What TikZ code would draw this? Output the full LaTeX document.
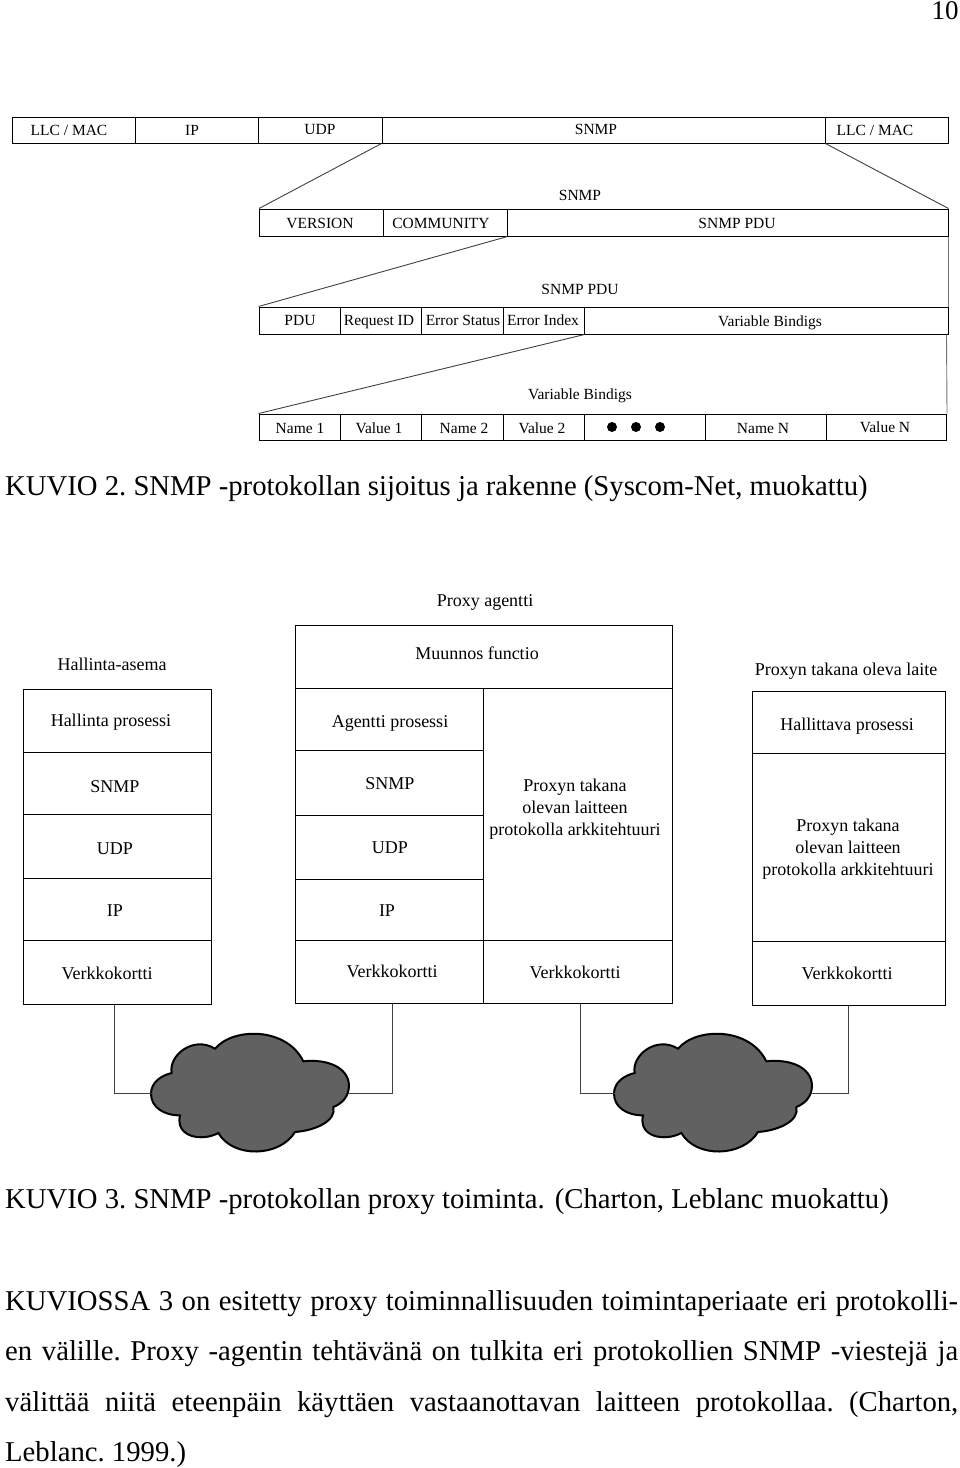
\documentclass[tikz,border=0pt]{standalone}
\usepackage{fontspec}
\setmainfont{Liberation Serif}
\tikzset{
  cell/.style={draw=black, line width=1pt, inner sep=0pt},
  lab/.style={inner sep=0pt, text height=10.2pt, text depth=0pt, font=\fontsize{15.5}{18}\selectfont},
  biglab/.style={inner sep=0pt, text height=11.9pt, text depth=0pt, font=\fontsize{18}{22}\selectfont},
  archlab/.style={inner sep=0pt, align=center, font=\fontsize{18}{22}\selectfont},
  caption/.style={inner sep=0pt, anchor=west, font=\fontsize{28.7}{32}\selectfont\frenchspacing},
  ball/.style={circle, fill=black, inner sep=0pt, minimum size=10pt},
  wire/.style={draw=black!75, line width=0.9pt},
  netcloud/.pic={
    \draw[line width=2pt, fill=black!62, scale=0.3333]
      (-235,-57) .. controls (-245,-110) and (-170,-170) .. (-105,-130)
      .. controls (-50,-195) and (110,-195) .. (160,-92)
      .. controls (230,-100) and (295,-75) .. (297,-20)
      .. controls (297,15) and (275,35) .. (250,45)
      .. controls (260,85) and (200,115) .. (135,120)
      .. controls (90,195) and (-50,200) .. (-95,123)
      .. controls (-145,150) and (-225,135) .. (-210,70)
      .. controls (-260,70) and (-297,45) .. (-297,5)
      .. controls (-297,-30) and (-265,-50) .. (-235,-57) -- cycle;
    \coordinate (-west) at (-98,1);
    \coordinate (-east) at (98,1);
  }
}
\begin{document}
\begin{tikzpicture}[x=1pt, y=-1pt]
\useasboundingbox (0,0) rectangle (960,1468);
\node[inner sep=0pt, font=\fontsize{27}{30}\selectfont] (pagenum) at (945,11) {10};

% frame layers
\node[cell, minimum width=123, minimum height=26] (llcA) at (73.5,130) {}; \node[lab] (llcAt) at (69,130) {LLC / MAC};
\node[cell, minimum width=123, minimum height=26] (ipA) at (196.5,130) {}; \node[lab] (ipAt) at (192,130) {IP};
\node[cell, minimum width=124, minimum height=26] (udpA) at (320,130) {}; \node[lab] (udpAt) at (320,129) {UDP};
\node[cell, minimum width=443, minimum height=26] (snmpA) at (603.5,130) {}; \node[lab] (snmpAt) at (596,129) {SNMP};
\node[cell, minimum width=123, minimum height=26] (llcB) at (886.5,130) {}; \node[lab] (llcBt) at (875,130) {LLC / MAC};

\node[lab] (titleB) at (580,195) {SNMP};
\node[cell, minimum width=124, minimum height=27] (verB) at (321.5,222.5) {}; \node[lab] (verBt) at (320,223) {VERSION};
\node[cell, minimum width=124, minimum height=27] (comB) at (445,222.5) {}; \node[lab] (comBt) at (441,223) {COMMUNITY};
\node[cell, minimum width=441, minimum height=27] (pduB) at (727.5,222.5) {}; \node[lab] (pduBt) at (737,223) {SNMP PDU};

\node[lab] (titleC) at (580,289) {SNMP PDU};
\node[cell, minimum width=81.5, minimum height=27] (pduC) at (299.75,320.5) {}; \node[lab] (pduCt) at (300,320) {PDU};
\node[cell, minimum width=81, minimum height=27] (reqC) at (381,320.5) {}; \node[lab] (reqCt) at (379,320) {Request ID};
\node[cell, minimum width=82, minimum height=27] (staC) at (462.5,320.5) {}; \node[lab] (staCt) at (463,320) {Error Status};
\node[cell, minimum width=80.5, minimum height=27] (idxC) at (543.75,320.5) {}; \node[lab] (idxCt) at (543,320) {Error Index};
\node[cell, minimum width=364, minimum height=27] (varC) at (766,320.5) {}; \node[lab] (varCt) at (770,321) {Variable Bindigs};

\node[lab] (titleD) at (580,394) {Variable Bindigs};
\node[cell, minimum width=81.5, minimum height=26] (nameA) at (299.75,427) {}; \node[lab] (nameAt) at (300,428) {Name 1};
\node[cell, minimum width=81, minimum height=26] (valA) at (381,427) {}; \node[lab] (valAt) at (379,428) {Value 1};
\node[cell, minimum width=82, minimum height=26] (nameB) at (462.5,427) {}; \node[lab] (nameBt) at (464,428) {Name 2};
\node[cell, minimum width=80.5, minimum height=26] (valB) at (543.75,427) {}; \node[lab] (valBt) at (542,428) {Value 2};
\node[cell, minimum width=121, minimum height=26] (gapD) at (644.5,427) {};
\node[ball] (dotA) at (612,427) {};
\node[ball] (dotB) at (636,427) {};
\node[ball] (dotC) at (660,427) {};
\node[cell, minimum width=121, minimum height=26] (nameN) at (765.5,427) {}; \node[lab] (nameNt) at (763,428) {Name N};
\node[cell, minimum width=120.5, minimum height=26] (valN) at (886.25,427) {}; \node[lab] (valNt) at (885,427) {Value N};

% zoom lines
\draw[wire] (snmpA.south west)--(verB.north west);
\draw[wire] (snmpA.south east)--(pduB.north east);
\draw[wire] (comB.south east)--(pduC.north west);
\draw[wire, black!55] (pduB.south east)--(varC.north east);
\draw[wire] (idxC.south east)--(nameA.north west);
\draw[wire, black!55] ([xshift=-2pt]varC.south east)--(valN.north east);

\node[caption] (capA) at (5,489) {KUVIO 2. SNMP -protokollan sijoitus ja rakenne (Syscom-Net, muokattu)};

% proxy stacks
\node[biglab] (titleAsema) at (112,665) {Hallinta-asema};
\node[cell, minimum width=188, minimum height=63] (hallA) at (117,720.5) {}; \node[biglab] (hallAt) at (111,721) {Hallinta prosessi};
\node[cell, minimum width=188, minimum height=62] (snmpL) at (117,783) {}; \node[biglab] (snmpLt) at (115,787) {SNMP};
\node[cell, minimum width=188, minimum height=64] (udpL) at (117,846) {}; \node[biglab] (udpLt) at (115,849) {UDP};
\node[cell, minimum width=188, minimum height=62] (ipL) at (117,909) {}; \node[biglab] (ipLt) at (115,911) {IP};
\node[cell, minimum width=188, minimum height=64] (verkL) at (117,972) {}; \node[biglab] (verkLt) at (107,974) {Verkkokortti};

\node[biglab] (titleProxy) at (485,601) {Proxy agentti};
\node[cell, minimum width=377, minimum height=63] (muunnos) at (483.5,656.5) {}; \node[biglab] (muunnost) at (477,654) {Muunnos functio};
\node[cell, minimum width=188, minimum height=62] (agentti) at (389,719) {}; \node[biglab] (agenttit) at (390,722) {Agentti prosessi};
\node[cell, minimum width=188, minimum height=65] (snmpM) at (389,782.5) {}; \node[biglab] (snmpMt) at (390,784) {SNMP};
\node[cell, minimum width=188, minimum height=64] (udpM) at (389,847) {}; \node[biglab] (udpMt) at (390,848) {UDP};
\node[cell, minimum width=188, minimum height=61] (ipM) at (389,909.5) {}; \node[biglab] (ipMt) at (387,911) {IP};
\node[cell, minimum width=188, minimum height=63] (verkM) at (389,971.5) {}; \node[biglab] (verkMt) at (392,972) {Verkkokortti};
\node[cell, minimum width=189, minimum height=252] (archM) at (577.5,814) {}; \node[archlab] (archMt) at (575,809) {Proxyn takana\\olevan laitteen\\protokolla arkkitehtuuri};
\node[cell, minimum width=189, minimum height=63] (verkN) at (577.5,971.5) {}; \node[biglab] (verkNt) at (575,973) {Verkkokortti};

\node[biglab] (titleLaite) at (846,670) {Proxyn takana oleva laite};
\node[cell, minimum width=193, minimum height=62] (hallB) at (848.5,722) {}; \node[biglab] (hallBt) at (847,725) {Hallittava prosessi};
\node[cell, minimum width=193, minimum height=188] (archR) at (848.5,847) {}; \node[archlab] (archRt) at (848,849) {Proxyn takana\\olevan laitteen\\protokolla arkkitehtuuri};
\node[cell, minimum width=193, minimum height=64] (verkR) at (848.5,973) {}; \node[biglab] (verkRt) at (847,974) {Verkkokortti};

% clouds
\pic (cloudA) at (250,1092) {netcloud};
\pic (cloudB) at (713,1092) {netcloud};
\draw[wire] ([xshift=-3pt]verkL.south) |- (cloudA-west);
\draw[wire] ([xshift=3pt]verkM.south) |- (cloudA-east);
\draw[wire] ([xshift=2.5pt]verkN.south) |- (cloudB-west);
\draw[wire] (verkR.south) |- (cloudB-east);

\node[caption] (capB) at (5,1202) {KUVIO 3. SNMP -protokollan proxy toiminta.\hspace{10pt}(Charton, Leblanc muokattu)};

\node[inner sep=0pt, anchor=north west, text width=953pt, align=justify, font=\fontsize{28.7}{50.5}\selectfont\frenchspacing] (bodytext) at (5,1290) {KUVIOSSA 3 on esitetty proxy toiminnallisuuden toimintaperiaate eri protokolli-\linebreak en välille. Proxy -agentin tehtävänä on tulkita eri protokollien SNMP -viestejä ja\linebreak välittää niitä eteenpäin käyttäen vastaanottavan laitteen protokollaa. (Charton,\linebreak Leblanc. 1999.)};
\end{tikzpicture}
\end{document}
